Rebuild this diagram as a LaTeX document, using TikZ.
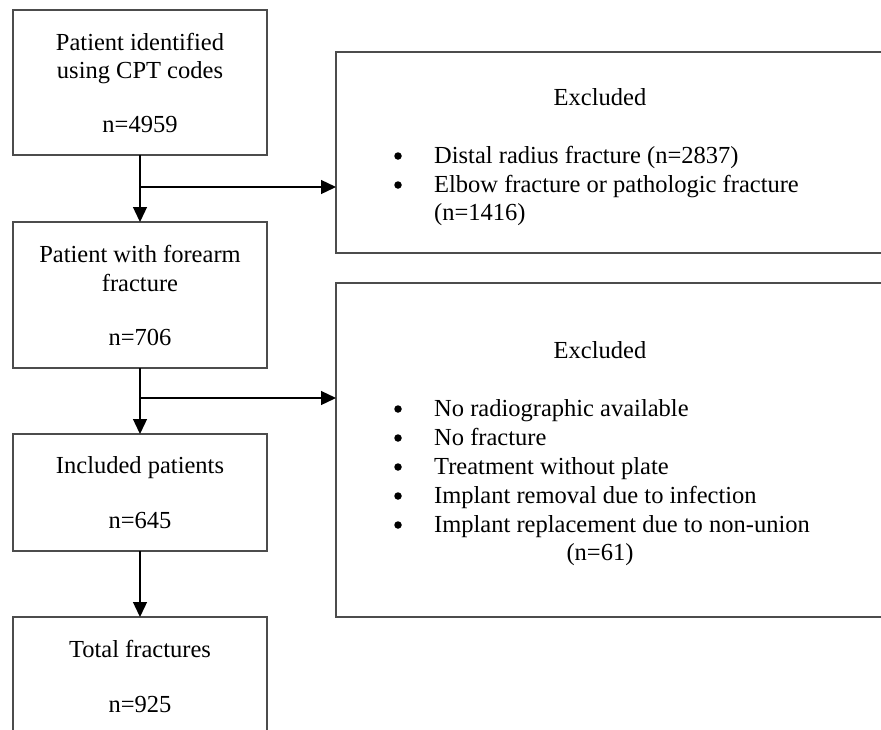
\documentclass[tikz,border=0pt]{standalone}
\usepackage{fontspec}
\setmainfont{Liberation Serif}
\usetikzlibrary{arrows.meta}
\definecolor{boxgray}{gray}{0.3}
\begin{document}
\begin{tikzpicture}[x=1pt,y=-1pt,
  box/.style={draw=boxgray, line width=1.3pt, inner sep=0pt, outer sep=0pt},
  txt/.style={font=\fontsize{24.5}{29}\selectfont, inner sep=0pt, anchor=base},
  ltxt/.style={txt, anchor=base west},
  bul/.style={circle, fill=black, minimum size=7.5pt, inner sep=0pt},
  arr/.style={-{Triangle[length=15pt,width=14pt]}, line width=1.3pt, draw=black}]
\clip (0,0) rectangle (881,729);
\fill[white] (0,0) rectangle (881,729);
% boxes
\node[box, minimum width=254pt, minimum height=145pt] (b1) at (140,82.5) {};
\node[box, minimum width=254pt, minimum height=146pt] (b2) at (140,295) {};
\node[box, minimum width=254pt, minimum height=117pt] (b3) at (140,492.5) {};
\node[box, minimum width=254pt, minimum height=183pt] (b4) at (140,708.5) {};
\node[box, minimum width=564pt, minimum height=201pt] (e1) at (618,152.5) {};
\node[box, minimum width=564pt, minimum height=334pt] (e2) at (618,450) {};
% texts box 1
\node[txt] (t1a) at (140,50) {Patient identified};
\node[txt] (t1b) at (140,78) {using CPT codes};
\node[txt] (t1c) at (140,132) {n=4959};
% box 2
\node[txt] (t2a) at (140,262) {Patient with forearm};
\node[txt] (t2b) at (140,291) {fracture};
\node[txt] (t2c) at (140,345) {n=706};
% box 3
\node[txt] (t3a) at (140,473) {Included patients};
\node[txt] (t3b) at (140,528) {n=645};
% box 4
\node[txt] (t4a) at (140,657) {Total fractures};
\node[txt] (t4b) at (140,712) {n=925};
% excluded 1
\node[txt] (x1h) at (600,105) {Excluded};
\node[bul] (x1b1) at (398,156) {};
\node[ltxt] (x1l1) at (434,163) {Distal radius fracture (n=2837)};
\node[bul] (x1b2) at (398,185) {};
\node[ltxt] (x1l2) at (434,192) {Elbow fracture or pathologic fracture};
\node[ltxt] (x1l3) at (434,220) {(n=1416)};
% excluded 2
\node[txt] (x2h) at (600,358) {Excluded};
\node[bul] (x2b1) at (398,409) {};
\node[ltxt] (x2l1) at (434,416) {No radiographic available};
\node[bul] (x2b2) at (398,438) {};
\node[ltxt] (x2l2) at (434,445) {No fracture};
\node[bul] (x2b3) at (398,467) {};
\node[ltxt] (x2l3) at (434,474) {Treatment without plate};
\node[bul] (x2b4) at (398,496) {};
\node[ltxt] (x2l4) at (434,503) {Implant removal due to infection};
\node[bul] (x2b5) at (398,525) {};
\node[ltxt] (x2l5) at (434,532) {Implant replacement due to non-union};
\node[txt] (x2l6) at (600,560) {(n=61)};
% connectors
\draw[arr] (b1.south) -- (b2.north);
\draw[arr] (b2.south) -- (b3.north);
\draw[arr] (b3.south) -- (b4.north);
\coordinate (j1) at (140,187);
\coordinate (j2) at (140,398);
\draw[arr] (j1) -- (j1 -| e1.west);
\draw[arr] (j2) -- (j2 -| e2.west);
\end{tikzpicture}
\end{document}
